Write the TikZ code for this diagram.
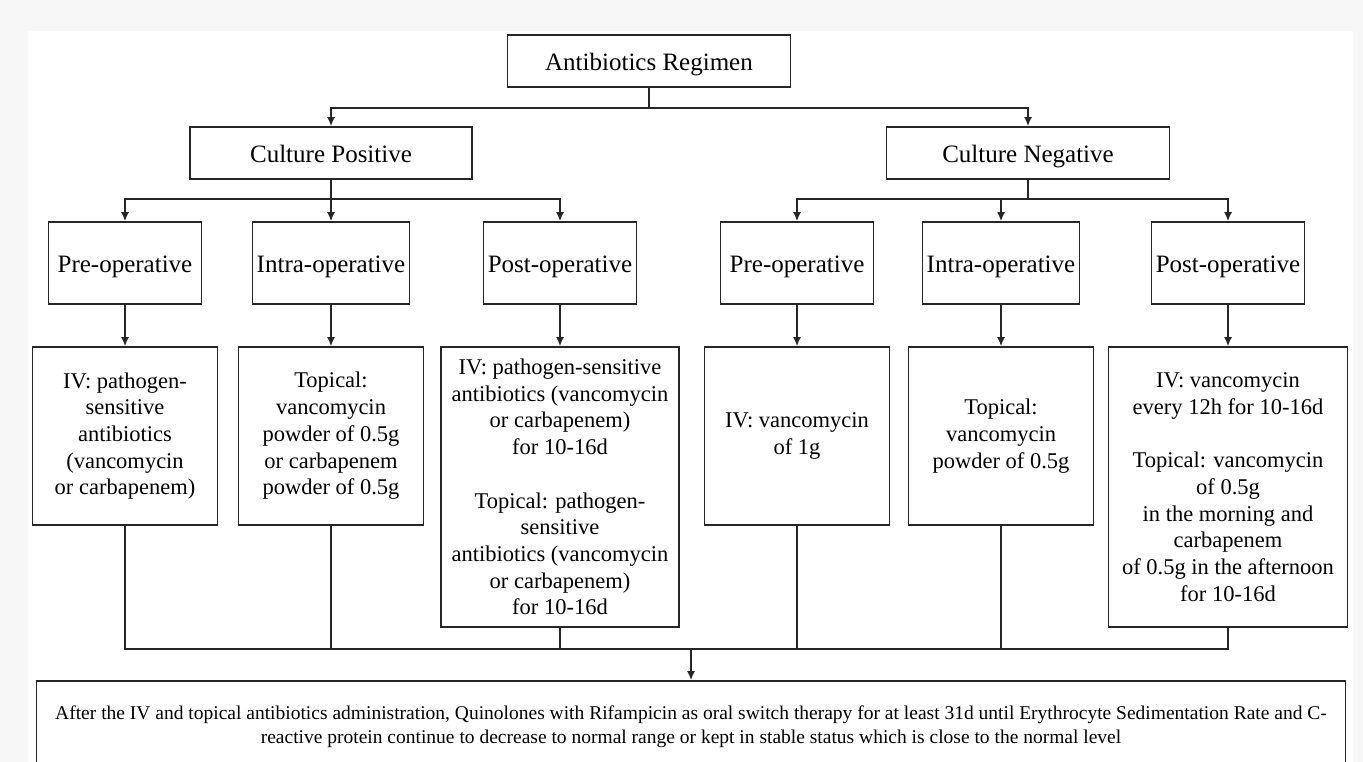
\documentclass[tikz,border=0pt]{standalone}
\usepackage{fontspec}
\setmainfont{Liberation Serif}
\usetikzlibrary{arrows.meta}
\tikzset{hb/.style={draw=black!85,line width=1.6pt,inner sep=0pt,align=center,font=\fontsize{25}{30}\selectfont,text height=19pt,text depth=0pt}}
\tikzset{tb/.style={hb,font=\fontsize{22.5}{26.7}\selectfont,text height=,text depth=}}
\tikzset{ln/.style={draw=black!85,line width=1.6pt}}
\tikzset{ar/.style={ln,-{Latex[length=9pt,width=8pt]}}}

\begin{document}
\begin{tikzpicture}[x=1pt,y=-1pt]
            \fill[gray!6] (0,0) rectangle (1363,762);
            \fill[white] (28,31) rectangle (1353,762);
            \useasboundingbox (0,0) rectangle (1363,762);
            \node[hb,minimum width=283pt,minimum height=52pt] (R) at (649,61) {Antibiotics Regimen};
            \node[hb,minimum width=282pt,minimum height=52pt] (P) at (331,153) {Culture Positive};
            \node[hb,minimum width=283pt,minimum height=52pt] (N) at (1028,153) {Culture Negative};
            \node[hb,minimum width=153pt,minimum height=82pt] (P1) at (125,263) {Pre-operative};
            \node[hb,minimum width=157pt,minimum height=82pt] (P2) at (331,263) {Intra-operative};
            \node[hb,minimum width=153pt,minimum height=82pt] (P3) at (560,263) {Post-operative};
            \node[hb,minimum width=153pt,minimum height=82pt] (N1) at (797,263) {Pre-operative};
            \node[hb,minimum width=157pt,minimum height=82pt] (N2) at (1001,263) {Intra-operative};
            \node[hb,minimum width=153pt,minimum height=82pt] (N3) at (1228,263) {Post-operative};
            \node[tb,minimum width=185pt,minimum height=178pt] (P1a) at (125,436)
              {IV: pathogen-\\sensitive\\antibiotics\\(vancomycin\\or carbapenem)};
            \node[tb,minimum width=185pt,minimum height=178pt] (P2a) at (331,436)
              {Topical:\\vancomycin\\powder of 0.5g\\or carbapenem\\powder of 0.5g};
            \node[tb,minimum width=238pt,minimum height=280pt] (P3a) at (560,487)
              {IV: pathogen-sensitive\\antibiotics (vancomycin\\or carbapenem)\\for 10-16d\\[26.7pt]Topical: pathogen-\\sensitive\\antibiotics (vancomycin\\or carbapenem)\\for 10-16d};
            \node[tb,minimum width=185pt,minimum height=178pt] (N1a) at (797,436)
              {IV: vancomycin\\of 1g};
            \node[tb,minimum width=185pt,minimum height=178pt] (N2a) at (1001,436)
              {Topical:\\vancomycin\\powder of 0.5g};
            \node[tb,minimum width=239pt,minimum height=280pt] (N3a) at (1228,487)
              {IV: vancomycin\\every 12h for 10-16d\\[26.7pt]Topical: vancomycin\\of 0.5g\\in the morning and\\carbapenem\\of 0.5g in the afternoon\\for 10-16d};
            \node[tb,font=\fontsize{19.5}{24}\selectfont,minimum width=1309pt,minimum height=92pt] (F) at (691,727)
              {After the IV and topical antibiotics administration, Quinolones with Rifampicin as oral switch therapy for at least 31d until Erythrocyte Sedimentation Rate and C-\\reactive protein continue to decrease to normal range or kept in stable status which is close to the normal level};
            \coordinate (r) at (649,108);
            \coordinate (p) at (331,199);
            \coordinate (n) at (1028,199);
            \coordinate (q) at (691,649);
            \draw[ln] (R) -- (r);
            \draw[ar] (r) -| (P);
            \draw[ar] (r) -| (N);
            \draw[ln] (P) -- (p);
            \draw[ln] (N) -- (n);
            \foreach \a in {P1,P2,P3} \draw[ar] (p) -| (\a);
            \foreach \a in {N1,N2,N3} \draw[ar] (n) -| (\a);
            \foreach \a in {P1,P2,P3,N1,N2,N3} \draw[ar] (\a) -- (\a a);
            \draw[ln] (P1a) |- (q) -| (N3a);
            \foreach \a in {P2a,P3a,N1a,N2a} \draw[ln] (\a) -- (\a |- q);
            \draw[ar] (q) -- (F);
          \end{tikzpicture}
\end{document}
